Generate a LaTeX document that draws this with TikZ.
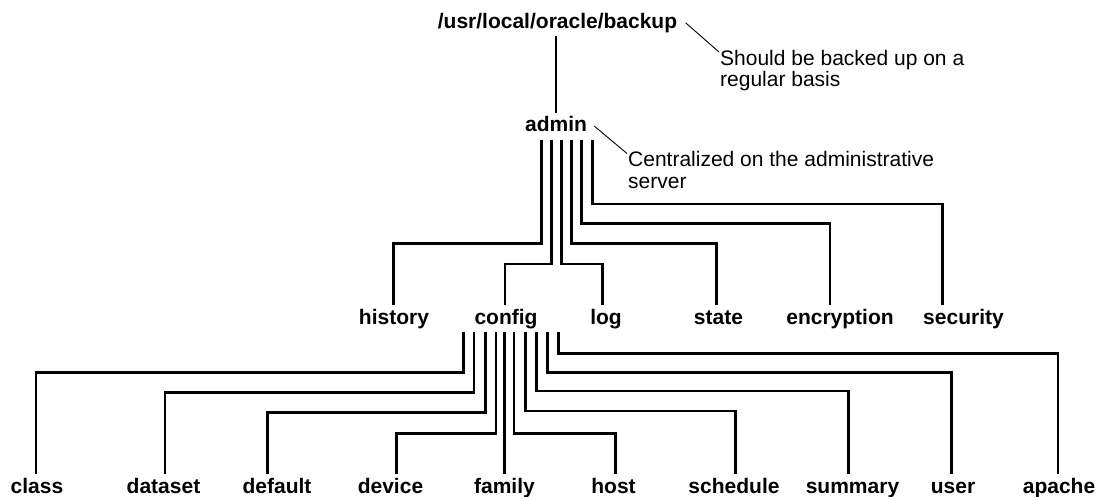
\documentclass[tikz,border=0pt]{standalone}
\usepackage{fontspec}
\setmainfont{Liberation Sans}

\begin{document}
\begin{tikzpicture}[x=1pt,y=-1pt,
            dir/.style={font=\fontsize{21}{22}\selectfont\bfseries,inner sep=0pt,outer sep=3.5pt,text height=15.5pt,text depth=4.5pt,anchor=base},
            note/.style={font=\fontsize{21}{21.5}\selectfont,inner sep=1pt,align=left,anchor=north west},
            branch/.style={line width=2.6pt},
            pointer/.style={line width=0.9pt}]
            \useasboundingbox (0,0) rectangle (1098,497);

            \node[dir] (backup) at (557.5,28.3) {/usr/local/oracle/backup};
            \node[dir] (admin) at (556,131.7) {admin};
            \foreach \n/\x in {history/394,config/506,log/606,state/718.5,encryption/840,security/963.5}
                \node[dir] (\n) at (\x,324.3) {\n};
            \foreach \n/\x in {class/37,dataset/163.5,default/277,device/390.5,family/504.5,host/613.5,schedule/734,summary/852.5,user/953,apache/1059}
                \node[dir] (\n) at (\x,493) {\n};

            \node[note] (backupnote) at (719,49) {Should be backed up on a\\regular basis};
            \node[note] (adminnote) at (627,150.5) {Centralized on the administrative\\server};

            \draw[branch] (admin.north) -- (admin.north |- backup.south);
            \foreach \n/\sx/\hy/\lx in {history/541.7/243.3/393.3,config/551.7/264/505,log/561.7/264/602.3,state/571.7/243.3/716.5,encryption/581.7/223.3/830,security/592.3/204/942.7}
                \draw[branch] (\sx,0 |- admin.south) |- (\lx,\hy) -- (\lx,0 |- \n.north);
            \foreach \n/\sx/\hy/\lx in {class/463.3/372.3/36,dataset/474/392.3/165,default/485.7/412.7/267.3,device/496/433.3/396.7,host/514/433.3/615.7,schedule/525.7/411/735.5,summary/536.7/391/848.7,user/547.3/372.3/951.3,apache/558.3/353.3/1058}
                \draw[branch] (\sx,0 |- config.south) |- (\lx,\hy) -- (\lx,0 |- \n.north);
            \draw[branch] (family.north |- config.south) -- (family.north);

            \draw[pointer] ([xshift=5pt]backup.east) -- ([yshift=-3pt]backupnote.north west);
            \draw[pointer] ([xshift=4pt]admin.east) -- ([yshift=-3pt]adminnote.north west);
        \end{tikzpicture}
\end{document}
